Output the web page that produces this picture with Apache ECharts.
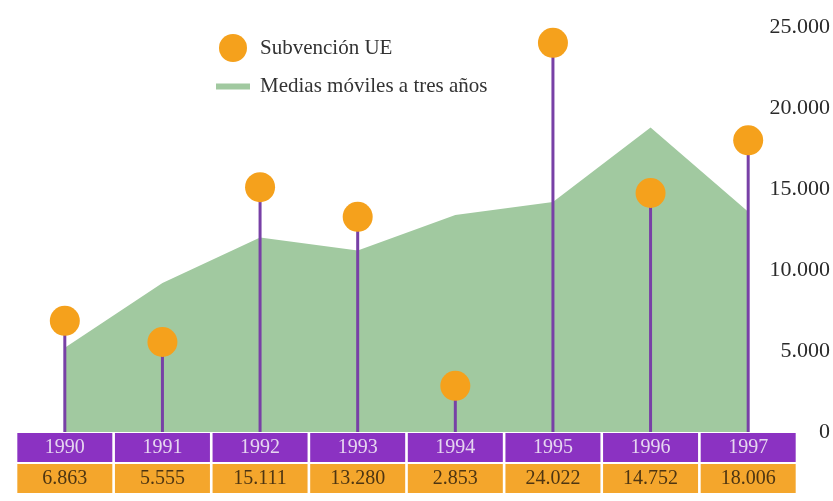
<!DOCTYPE html>
<html>
<head>
<meta charset="utf-8">
<script src="https://cdn.jsdelivr.net/npm/echarts@6/dist/echarts.min.js"></script>
<style>html,body{margin:0;padding:0;background:#fff;}#c{width:833px;height:501px;}</style>
</head>
<body>
<div id="c"></div>
<script>
const categories = ['1990', '1991', '1992', '1993', '1994', '1995', '1996', '1997'];
const subvencion = [6863, 5555, 15111, 13280, 2853, 24022, 14752, 18006];
const valueLabels = ['6.863', '5.555', '15.111', '13.280', '2.853', '24.022', '14.752', '18.006'];
const mediasMoviles = [5200, 9200, 12000, 11200, 13400, 14200, 18800, 13600];
const yTickLabels = ['0', '5.000', '10.000', '15.000', '20.000', '25.000'];

const serif = '"Liberation Serif", "DejaVu Serif", serif';
const chart = echarts.init(document.getElementById('c'));
chart.setOption({
  backgroundColor: '#fff',
  animation: false,
  grid: { left: 16, right: 36, top: 27, bottom: 69 },
  legend: [
    { data: [{ name: 'Subvención UE', icon: 'circle' }], left: 214, top: 29, itemWidth: 28, itemHeight: 28, itemGap: 0,
      textStyle: { fontFamily: serif, fontSize: 21, color: '#333', padding: [0, 0, 0, 8] } },
    { data: [{ name: 'Medias móviles a tres años', icon: 'rect' }], left: 211, top: 71, itemWidth: 34, itemHeight: 6,
      textStyle: { fontFamily: serif, fontSize: 21, color: '#333', padding: [0, 0, 0, 5] } }
  ],
  xAxis: [
    { type: 'category', data: categories, position: 'bottom', boundaryGap: true,
      axisLine: { show: false }, axisTick: { show: false },
      axisLabel: { interval: 0, margin: 1, backgroundColor: '#8b32c2', width: 95, height: 29, lineHeight: 29,
        padding: 0, align: 'center', color: '#e6d6f0', fontFamily: serif, fontSize: 20 } },
    { type: 'category', data: categories, position: 'bottom', offset: 31, boundaryGap: true,
      axisLine: { show: false }, axisTick: { show: false },
      axisLabel: { interval: 0, margin: 1, backgroundColor: '#f4a62c', width: 95, height: 29, lineHeight: 29,
        padding: 0, align: 'center', color: '#4d3512', fontFamily: serif, fontSize: 20,
        formatter: (v, i) => valueLabels[i] } }
  ],
  yAxis: {
    type: 'value', position: 'right', min: 0, max: 25000, interval: 5000,
    splitLine: { show: false }, axisLine: { show: false }, axisTick: { show: false },
    axisLabel: { align: 'right', margin: 33, padding: [8, 0, 0, 0], fontFamily: serif, fontSize: 22, color: '#2a2a2a',
      formatter: v => yTickLabels[Math.round(v / 5000)] }
  },
  series: [
    { name: 'Medias móviles a tres años', type: 'line', data: mediasMoviles, xAxisIndex: 0,
      showSymbol: false, symbol: 'none', color: '#a1c9a0',
      lineStyle: { width: 0, color: '#a1c9a0' }, areaStyle: { color: '#a1c9a0', opacity: 1 }, z: 2 },
    { name: 'stems', type: 'bar', data: subvencion, xAxisIndex: 0, barWidth: 3,
      itemStyle: { color: '#7840a6' }, z: 3, silent: true },
    { name: 'Subvención UE', type: 'scatter', data: subvencion, xAxisIndex: 0, symbolSize: 30,
      itemStyle: { color: '#f5a11c', opacity: 1 }, z: 4 }
  ]
});
</script>
</body>
</html>
